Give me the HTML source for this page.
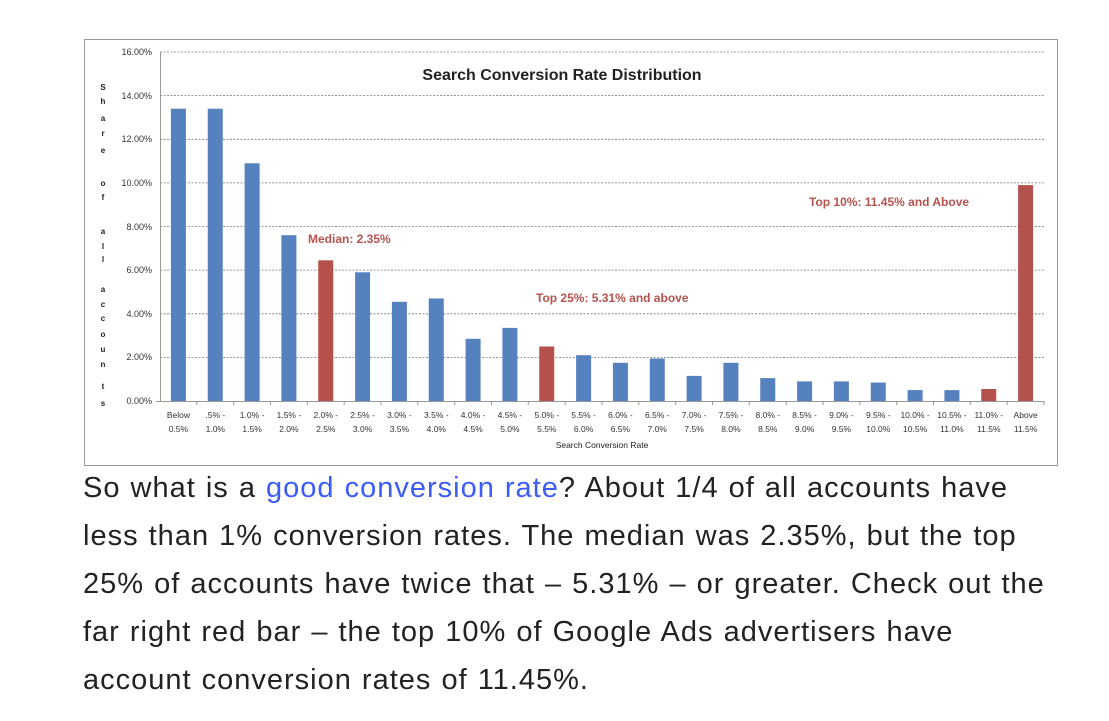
<!DOCTYPE html>
<html><head><meta charset="utf-8"><style>
body{margin:0;background:#fff;width:1109px;height:721px;overflow:hidden;font-family:"Liberation Sans",sans-serif}
svg{position:absolute;left:0;top:0}
.p{position:absolute;left:83px;top:464px;font-size:29px;line-height:48px;color:#222;letter-spacing:1.0px;word-spacing:1px;white-space:nowrap}
.p a{color:#3b5bfb;text-decoration:none}
</style></head><body>
<svg width="1109" height="470" viewBox="0 0 1109 470" font-family="Liberation Sans, sans-serif">
<rect x="84.5" y="39.5" width="973" height="426" fill="#fff" stroke="#999" stroke-width="1"/>
<g stroke="#777" stroke-dasharray="2,1.5" stroke-width="0.8">
<line x1="160" x2="1044" y1="52" y2="52"/><line x1="160" x2="1044" y1="95.6" y2="95.6"/>
<line x1="160" x2="1044" y1="139.3" y2="139.3"/><line x1="160" x2="1044" y1="182.9" y2="182.9"/>
<line x1="160" x2="1044" y1="226.5" y2="226.5"/><line x1="160" x2="1044" y1="270.1" y2="270.1"/>
<line x1="160" x2="1044" y1="313.8" y2="313.8"/><line x1="160" x2="1044" y1="357.4" y2="357.4"/>
</g>
<g font-size="9" fill="#333" text-anchor="end">
<text x="152" y="55">16.00%</text><text x="152" y="99">14.00%</text><text x="152" y="142">12.00%</text>
<text x="152" y="186">10.00%</text><text x="152" y="230">8.00%</text><text x="152" y="273">6.00%</text>
<text x="152" y="317">4.00%</text><text x="152" y="360">2.00%</text><text x="152" y="404">0.00%</text>
</g>
<g font-size="8" font-weight="bold" fill="#222" text-anchor="middle">
<text x="103" y="90">S</text><text x="103" y="104">h</text><text x="103" y="121">a</text><text x="103" y="136">r</text><text x="103" y="153">e</text>
<text x="103" y="186">o</text><text x="103" y="200">f</text><text x="103" y="234">a</text><text x="103" y="249">l</text><text x="103" y="262">l</text>
<text x="103" y="292">a</text><text x="103" y="307">c</text><text x="103" y="321">c</text><text x="103" y="337">o</text><text x="103" y="352">u</text><text x="103" y="367">n</text><text x="103" y="389">t</text><text x="103" y="406">s</text>
</g>
<g fill="#5581be">
<rect x="170.9" y="108.7" width="15" height="292.3"/>
<rect x="207.75" y="108.7" width="15" height="292.3"/>
<rect x="244.6" y="163.3" width="15" height="237.7"/>
<rect x="281.4" y="235.2" width="15" height="165.8"/>
<rect x="355.1" y="272.3" width="15" height="128.7"/>
<rect x="391.9" y="301.8" width="15" height="99.2"/>
<rect x="428.75" y="298.5" width="15" height="102.5"/>
<rect x="465.6" y="338.8" width="15" height="62.2"/>
<rect x="502.4" y="327.9" width="15" height="73.1"/>
<rect x="576.1" y="355.2" width="15" height="45.8"/>
<rect x="612.9" y="362.8" width="15" height="38.2"/>
<rect x="649.75" y="358.5" width="15" height="42.5"/>
<rect x="686.6" y="375.9" width="15" height="25.1"/>
<rect x="723.4" y="362.8" width="15" height="38.2"/>
<rect x="760.25" y="378.1" width="15" height="22.9"/>
<rect x="797.1" y="381.4" width="15" height="19.6"/>
<rect x="833.9" y="381.4" width="15" height="19.6"/>
<rect x="870.75" y="382.5" width="15" height="18.5"/>
<rect x="907.6" y="390.1" width="15" height="10.9"/>
<rect x="944.4" y="390.1" width="15" height="10.9"/>
</g>
<g fill="#b5524d">
<rect x="318.25" y="260.3" width="15" height="140.7"/>
<rect x="539.25" y="346.5" width="15" height="54.5"/>
<rect x="981.25" y="389" width="15" height="12"/>
<rect x="1018.1" y="185.1" width="15" height="215.9"/>
</g>
<line x1="160.5" y1="52" x2="160.5" y2="401" stroke="#999"/>
<line x1="156" y1="401.5" x2="1044" y2="401.5" stroke="#999"/>
<g stroke="#999">
<path d="M196.8 401v4M233.7 401v4M270.5 401v4M307.3 401v4M344.2 401v4M381 401v4M417.8 401v4M454.7 401v4M491.5 401v4M528.3 401v4M565.2 401v4M602 401v4M638.8 401v4M675.7 401v4M712.5 401v4M749.3 401v4M786.2 401v4M823 401v4M859.8 401v4M896.7 401v4M933.5 401v4M970.3 401v4M1007.2 401v4M1044 401v4"/>
</g>
<text x="562" y="80" font-size="16" font-weight="bold" fill="#222" text-anchor="middle">Search Conversion Rate Distribution</text>
<g font-size="12" font-weight="bold" fill="#b5524d">
<text x="308" y="243">Median: 2.35%</text>
<text x="536" y="302">Top 25%: 5.31% and above</text>
<text x="809" y="206">Top 10%: 11.45% and Above</text>
</g>
<text x="602" y="448" font-size="8.5" fill="#222" text-anchor="middle">Search Conversion Rate</text>
<g font-size="8.5" fill="#333" text-anchor="middle">
<text x="178.4" y="418">Below</text><text x="178.4" y="432">0.5%</text>
<text x="215.3" y="418">.5% -</text><text x="215.3" y="432">1.0%</text>
<text x="252.1" y="418">1.0% -</text><text x="252.1" y="432">1.5%</text>
<text x="288.9" y="418">1.5% -</text><text x="288.9" y="432">2.0%</text>
<text x="325.8" y="418">2.0% -</text><text x="325.8" y="432">2.5%</text>
<text x="362.6" y="418">2.5% -</text><text x="362.6" y="432">3.0%</text>
<text x="399.4" y="418">3.0% -</text><text x="399.4" y="432">3.5%</text>
<text x="436.3" y="418">3.5% -</text><text x="436.3" y="432">4.0%</text>
<text x="473.1" y="418">4.0% -</text><text x="473.1" y="432">4.5%</text>
<text x="509.9" y="418">4.5% -</text><text x="509.9" y="432">5.0%</text>
<text x="546.8" y="418">5.0% -</text><text x="546.8" y="432">5.5%</text>
<text x="583.6" y="418">5.5% -</text><text x="583.6" y="432">6.0%</text>
<text x="620.4" y="418">6.0% -</text><text x="620.4" y="432">6.5%</text>
<text x="657.3" y="418">6.5% -</text><text x="657.3" y="432">7.0%</text>
<text x="694.1" y="418">7.0% -</text><text x="694.1" y="432">7.5%</text>
<text x="730.9" y="418">7.5% -</text><text x="730.9" y="432">8.0%</text>
<text x="767.8" y="418">8.0% -</text><text x="767.8" y="432">8.5%</text>
<text x="804.6" y="418">8.5% -</text><text x="804.6" y="432">9.0%</text>
<text x="841.4" y="418">9.0% -</text><text x="841.4" y="432">9.5%</text>
<text x="878.3" y="418">9.5% -</text><text x="878.3" y="432">10.0%</text>
<text x="915.1" y="418">10.0% -</text><text x="915.1" y="432">10.5%</text>
<text x="951.9" y="418">10.5% -</text><text x="951.9" y="432">11.0%</text>
<text x="988.8" y="418">11.0% -</text><text x="988.8" y="432">11.5%</text>
<text x="1025.6" y="418">Above</text><text x="1025.6" y="432">11.5%</text>
</g>
</svg>
<div class="p">So what is a <a>good conversion rate</a>? About 1/4 of all accounts have<br>less than 1% conversion rates. The median was 2.35%, but the top<br>25% of accounts have twice that – 5.31% – or greater. Check out the<br>far right red bar – the top 10% of Google Ads advertisers have<br>account conversion rates of 11.45%.</div>
</body></html>
